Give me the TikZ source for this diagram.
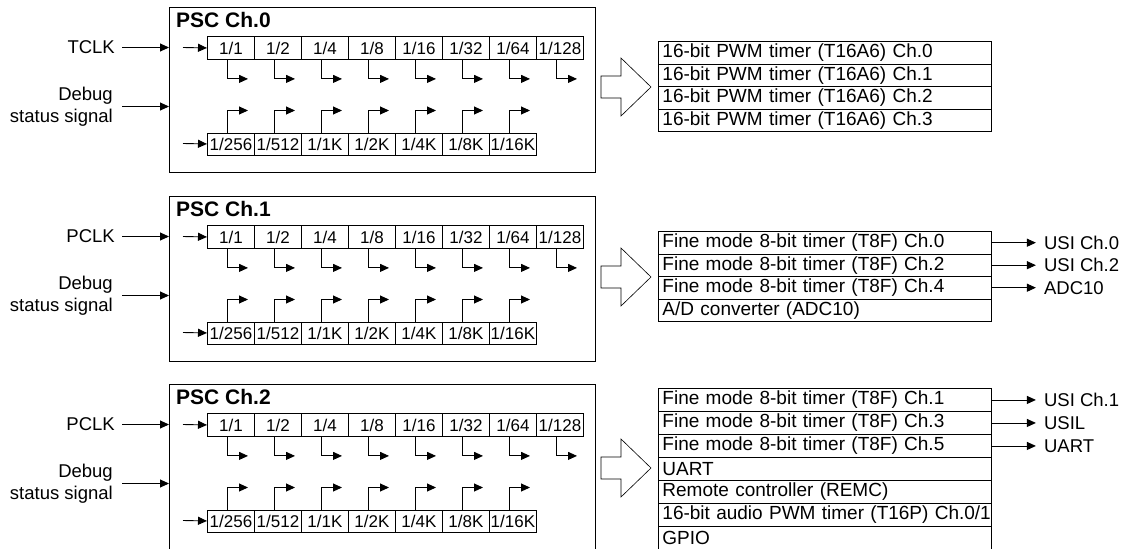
\documentclass[tikz,border=0pt]{standalone}
\usepackage{fontspec}
\setmainfont{Liberation Sans}
\usetikzlibrary{arrows.meta}

\tikzset{
  frame/.style={draw, line width=1.2pt, inner sep=0pt, anchor=north west},
  cell/.style={draw, line width=0.9pt, minimum width=47pt, minimum height=23pt,
    inner sep=0pt, anchor=north west, font=\fontsize{17}{17}\selectfont},
  row/.style={draw, line width=0.9pt, minimum height=#1, text width=325pt,
    inner xsep=4pt, inner ysep=0pt, anchor=north west, align=left,
    font=\fontsize{19}{19}\selectfont},
  row/.default=22.5pt,
  sig/.style={line width=0.9pt, -{Triangle[length=9pt,width=8pt]}},
  lbl/.style={font=\fontsize{18.5}{22}\selectfont, inner sep=0pt},
  ttl/.style={font=\bfseries\fontsize{21}{21}\selectfont, anchor=base west, inner sep=0pt},
  hollow/.style={draw, line width=0.6pt, fill=white, line join=miter},
}

% One prescaler block: #1 channel, #2 vertical offset, #3 clock input name
\newcommand\pscblock[3]{%
  \begin{scope}[yshift=-#2pt]
    \node[frame, minimum width=426pt, minimum height=165pt] (p#1) at (169,7) {};
    \node[ttl] (h#1) at (176,27.5) {PSC Ch.#1};
    % upper divider row and its taps
    \foreach \lab [count=\i from 0] in {{1/1},{1/2},{1/4},{1/8},{1/16},{1/32},{1/64},{1/128}} {
      \node[cell] (t#1-\i) at ({207+47*\i},36) {\lab};
      \draw[sig] ([xshift=20pt]t#1-\i.south west) |- ([xshift=41pt,yshift=-19pt]t#1-\i.south west);
    }
    % lower divider row and its taps
    \foreach \lab [count=\i from 0] in {{1/256},{1/512},{1/1K},{1/2K},{1/4K},{1/8K},{1/16K}} {
      \node[cell, minimum height=22pt] (b#1-\i) at ({207+47*\i},132.5) {\lab};
      \draw[sig] ([xshift=20pt]b#1-\i.north west) |- ([xshift=41pt,yshift=22pt]b#1-\i.north west);
    }
    \coordinate (ti#1) at (183,47.5);
    \coordinate (bi#1) at (183,143.5);
    \draw[sig] (ti#1) -- (t#1-0.west);
    \draw[sig] (bi#1) -- (b#1-0.west);
    % external inputs
    \node[lbl, anchor=east] (clk#1) at (115,47.5) {#3};
    \draw[sig] ([xshift=7pt]clk#1.east) -- (clk#1.east -| p#1.west);
    \node[lbl, anchor=east, align=right] (dbg#1) at (113,106.5) {Debug\\status signal};
    \draw[sig] ([xshift=9pt]dbg#1.east) -- (dbg#1.east -| p#1.west);
  \end{scope}%
}

% Hollow block arrow with its tip at the given point
\newcommand\bigarrow[2]{%
  \coordinate (#1) at #2;
  \draw[hollow] (#1) -- ++(-30,-29) -- ++(0,18) -- ++(-20,0) -- ++(0,22)
    -- ++(20,0) -- ++(0,18) -- cycle;
}

\begin{document}
\begin{tikzpicture}[x=1pt, y=-1pt]
  \clip (0,0) rectangle (1133,549);

  \pscblock{0}{0}{TCLK}
  \pscblock{1}{189}{PCLK}
  \pscblock{2}{377}{PCLK}

  % Ch.0 destinations
  \bigarrow{a0}{(651,87)}
  \foreach \txt [count=\i from 0] in {{16-bit PWM timer (T16A6) Ch.0},{16-bit PWM timer (T16A6) Ch.1},
      {16-bit PWM timer (T16A6) Ch.2},{16-bit PWM timer (T16A6) Ch.3}}
    \node[row] (l0-\i) at (658,{41+22.5*\i}) {\mbox{\txt}};

  % Ch.1 destinations
  \bigarrow{a1}{(651,277)}
  \foreach \txt [count=\i from 0] in {{Fine mode 8-bit timer (T8F) Ch.0},{Fine mode 8-bit timer (T8F) Ch.2},
      {Fine mode 8-bit timer (T8F) Ch.4},{A/D converter (ADC10)}}
    \node[row] (l1-\i) at (658,{231+22.5*\i}) {\mbox{\txt}};
  \foreach \txt [count=\i from 0] in {{USI Ch.0},{USI Ch.2},{ADC10}} {
    \node[lbl, anchor=west] (o1-\i) at ([xshift=52pt]l1-\i.east) {\txt};
    \draw[sig, shorten >=8pt] (l1-\i.east) -- (o1-\i.west);
  }

  % Ch.2 destinations
  \bigarrow{a2}{(651,468)}
  \foreach \txt [count=\i from 0] in {{Fine mode 8-bit timer (T8F) Ch.1},{Fine mode 8-bit timer (T8F) Ch.3},
      {Fine mode 8-bit timer (T8F) Ch.5},{UART},{Remote controller (REMC)},
      {16-bit audio PWM timer (T16P) Ch.0/1},{GPIO}}
    \node[row=23pt] (l2-\i) at (658,{388+23*\i}) {\mbox{\txt}};
  \foreach \txt [count=\i from 0] in {{USI Ch.1},{USIL},{UART}} {
    \node[lbl, anchor=west] (o2-\i) at ([xshift=52pt]l2-\i.east) {\txt};
    \draw[sig, shorten >=8pt] (l2-\i.east) -- (o2-\i.west);
  }
\end{tikzpicture}
\end{document}
